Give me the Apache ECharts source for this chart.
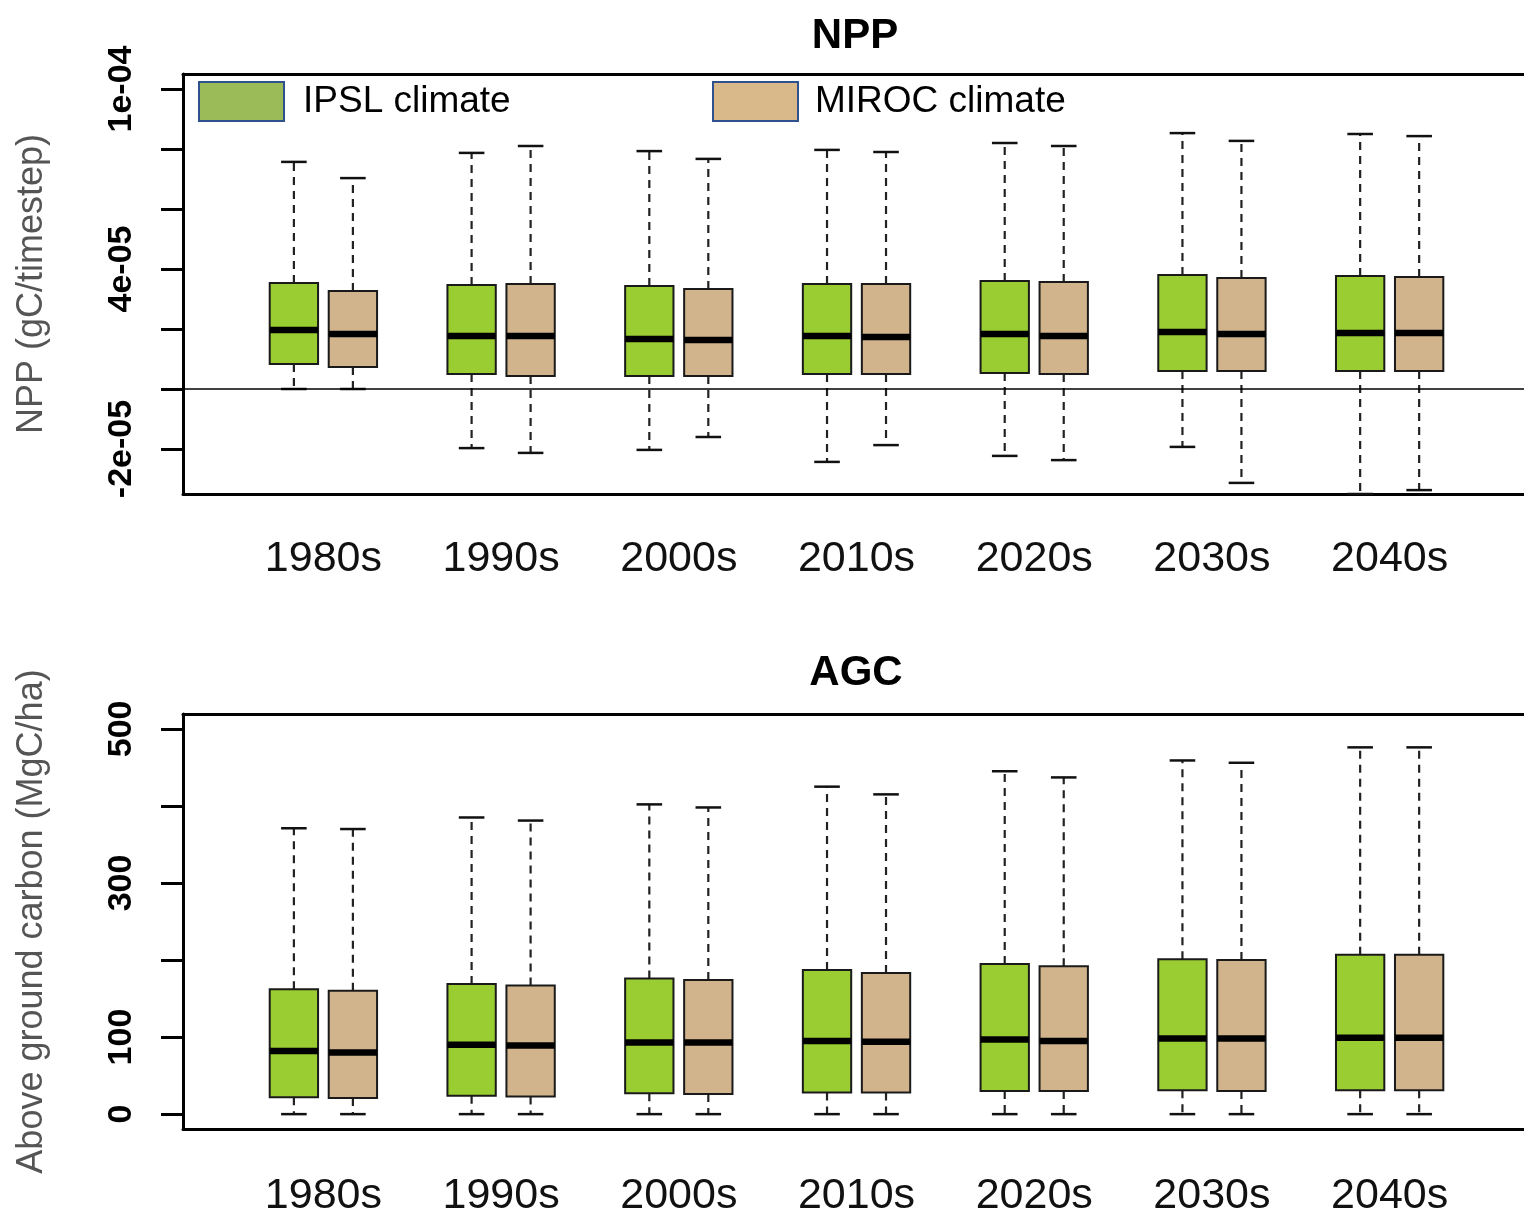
<!DOCTYPE html>
<html lang="en">
<head>
  <meta charset="UTF-8">
  <title>NPP / AGC</title>
  <style>
    html,body{margin:0;padding:0;background:#fff;}
    #main{width:1524px;height:1218px;}
  </style>
</head>
<body>
  <div id="main"></div>
  <script src="https://cdn.jsdelivr.net/npm/echarts@6/dist/echarts.min.js"></script>
  <script>
    const decades=['1980s','1990s','2000s','2010s','2020s','2030s','2040s'];

    // each row: [lower whisker, Q1, median, Q3, upper whisker]
    const nppIpsl=[
      [0,       0.83e-5, 1.97e-5, 3.53e-5, 7.57e-5],
      [-1.97e-5,0.50e-5, 1.77e-5, 3.47e-5, 7.87e-5],
      [-2.03e-5,0.43e-5, 1.67e-5, 3.43e-5, 7.93e-5],
      [-2.43e-5,0.50e-5, 1.77e-5, 3.50e-5, 7.97e-5],
      [-2.23e-5,0.53e-5, 1.83e-5, 3.60e-5, 8.20e-5],
      [-1.93e-5,0.60e-5, 1.90e-5, 3.80e-5, 8.53e-5],
      [-3.50e-5,0.60e-5, 1.87e-5, 3.77e-5, 8.50e-5]
    ];
    const nppMiroc=[
      [0,       0.73e-5, 1.83e-5, 3.27e-5, 7.03e-5],
      [-2.13e-5,0.43e-5, 1.77e-5, 3.50e-5, 8.10e-5],
      [-1.60e-5,0.43e-5, 1.63e-5, 3.33e-5, 7.67e-5],
      [-1.87e-5,0.50e-5, 1.73e-5, 3.50e-5, 7.90e-5],
      [-2.37e-5,0.50e-5, 1.77e-5, 3.57e-5, 8.10e-5],
      [-3.13e-5,0.60e-5, 1.83e-5, 3.70e-5, 8.27e-5],
      [-3.37e-5,0.60e-5, 1.87e-5, 3.73e-5, 8.43e-5]
    ];
    const agcIpsl=[
      [0, 22, 82, 162, 371],
      [0, 24, 90, 169, 385],
      [0, 27, 93, 176, 402],
      [0, 28, 95, 187, 425],
      [0, 30, 97, 195, 445],
      [0, 31, 98, 201, 459],
      [0, 31, 99, 207, 476]
    ];
    const agcMiroc=[
      [0, 21, 80, 160, 370],
      [0, 23, 89, 167, 381],
      [0, 26, 93, 174, 398],
      [0, 28, 94, 183, 415],
      [0, 30, 95, 192, 437],
      [0, 30, 98, 200, 456],
      [0, 31, 99, 207, 476]
    ];

    const nppTicks=[-2e-5,0,2e-5,4e-5,6e-5,8e-5,1e-4];
    const nppLabelValues=[-2e-5,4e-5,1e-4];
    const nppLabels=['-2e-05','4e-05','1e-04'];
    const agcTicks=[0,100,200,300,400,500];
    const agcLabelValues=[0,100,300,500];
    const agcLabels=['0','100','300','500'];

    const font='"Liberation Sans", Arial, sans-serif';
    const chart=echarts.init(document.getElementById('main'));

    function pickLabel(values,labels){
      return function(v){
        let best=0;
        values.forEach((t,i)=>{ if(Math.abs(t-v)<Math.abs(values[best]-v)) best=i; });
        return labels[best];
      };
    }

    // draws one R-style boxplot: dashed whiskers, short staples, thick median
    function boxRenderer(shift){
      return function(params,api){
        const x=api.value(0)+shift;
        const lo=api.coord([x,api.value(1)]);
        const q1=api.coord([x,api.value(2)]);
        const md=api.coord([x,api.value(3)]);
        const q3=api.coord([x,api.value(4)]);
        const hi=api.coord([x,api.value(5)]);
        const unit=api.size([1,0])[0];
        const hw=unit*0.136, cw=unit*0.072;
        const cx=md[0];
        const dash={stroke:'#222',lineWidth:2.2,lineDash:[8,6]};
        const cap={stroke:'#111',lineWidth:2.5};
        return {type:'group',children:[
          {type:'line',shape:{x1:cx,y1:q3[1],x2:cx,y2:hi[1]},style:dash},
          {type:'line',shape:{x1:cx,y1:q1[1],x2:cx,y2:lo[1]},style:dash},
          {type:'line',shape:{x1:cx-cw,y1:hi[1],x2:cx+cw,y2:hi[1]},style:cap},
          {type:'line',shape:{x1:cx-cw,y1:lo[1],x2:cx+cw,y2:lo[1]},style:cap},
          {type:'rect',shape:{x:cx-hw,y:q3[1],width:hw*2,height:q1[1]-q3[1]},
            style:{fill:api.visual('color'),stroke:'#1a1a1a',lineWidth:2}},
          {type:'line',shape:{x1:cx-hw,y1:md[1],x2:cx+hw,y2:md[1]},style:{stroke:'#000',lineWidth:6.5}}
        ]};
      };
    }

    function rows(arr){ return arr.map((r,i)=>[i].concat(r)); }

    const frameLine={show:true, onZero:false, lineStyle:{color:'#000', width:3}};
    const xMin=-0.79, xMax=6.756;

    function bottomAxis(idx,margin){
      return {
        type:'value', gridIndex:idx, min:xMin, max:xMax,
        axisLine:frameLine, axisTick:{show:false}, splitLine:{show:false},
        axisLabel:{customValues:[0,1,2,3,4,5,6], formatter:v=>decades[Math.round(v)],
          fontSize:43, color:'#111', fontFamily:font, margin:margin}
      };
    }
    function topAxis(idx){
      return {
        type:'value', gridIndex:idx, position:'top', min:xMin, max:xMax,
        axisLine:frameLine, axisTick:{show:false}, splitLine:{show:false}, axisLabel:{show:false}
      };
    }

    function yAxisOf(idx,name,min,max,ticks,labelValues,labels){
      return {
        type:'value', gridIndex:idx, min:min, max:max,
        name:name, nameLocation:'middle', nameGap:133,
        nameTextStyle:{fontSize:36, color:'#555', fontFamily:font},
        axisLine:frameLine,
        splitLine:{show:false},
        axisTick:{show:true, customValues:ticks, length:22, lineStyle:{color:'#000', width:3}},
        axisLabel:{customValues:labelValues, formatter:pickLabel(labelValues,labels),
          rotate:90, fontSize:34, fontWeight:'bold', color:'#000', fontFamily:font, margin:44}
      };
    }

    const option={
      animation:false,
      backgroundColor:'#fff',
      title:[
        {text:'NPP', left:850, top:10, textAlign:'center',
          textStyle:{fontSize:42, fontWeight:'bold', color:'#000', fontFamily:font}},
        {text:'AGC', left:851, top:647, textAlign:'center',
          textStyle:{fontSize:42, fontWeight:'bold', color:'#000', fontFamily:font}}
      ],
      legend:[
        {left:198, top:81, padding:0, icon:'rect', itemWidth:85, itemHeight:39, selectedMode:false,
          data:[{name:'IPSL climate', itemStyle:{color:'#9BBB59', borderColor:'#2F528F', borderWidth:2}}],
          textStyle:{fontSize:37, color:'#000', fontFamily:font, padding:[0,0,0,14]}},
        {left:712, top:81, padding:0, icon:'rect', itemWidth:85, itemHeight:39, selectedMode:false,
          data:[{name:'MIROC climate', itemStyle:{color:'#D9B98A', borderColor:'#2F528F', borderWidth:2}}],
          textStyle:{fontSize:37, color:'#000', fontFamily:font, padding:[0,0,0,12]}}
      ],
      grid:[
        {left:183, top:74, width:1341, height:420},
        {left:183, top:714, width:1341, height:418}
      ],
      xAxis:[
        bottomAxis(0,44), topAxis(0),
        bottomAxis(1,46), topAxis(1)
      ],
      yAxis:[
        yAxisOf(0,'NPP (gC/timestep)',-3.5e-5,1.05e-4,nppTicks,nppLabelValues,nppLabels),
        yAxisOf(1,'Above ground carbon (MgC/ha)',-19.3,519.3,agcTicks,agcLabelValues,agcLabels)
      ],
      series:[
        {name:'IPSL climate', type:'custom', xAxisIndex:0, yAxisIndex:0,
          itemStyle:{color:'#9ACD32'}, renderItem:boxRenderer(-0.166),
          encode:{x:0, y:[1,2,3,4,5]}, data:rows(nppIpsl),
          markLine:{silent:true, symbol:'none', label:{show:false},
            lineStyle:{color:'#000', width:1.5, type:'solid'}, data:[{yAxis:0}]}},
        {name:'MIROC climate', type:'custom', xAxisIndex:0, yAxisIndex:0,
          itemStyle:{color:'#D2B48C'}, renderItem:boxRenderer(0.166),
          encode:{x:0, y:[1,2,3,4,5]}, data:rows(nppMiroc)},
        {name:'IPSL climate', type:'custom', xAxisIndex:2, yAxisIndex:1,
          itemStyle:{color:'#9ACD32'}, renderItem:boxRenderer(-0.166),
          encode:{x:0, y:[1,2,3,4,5]}, data:rows(agcIpsl)},
        {name:'MIROC climate', type:'custom', xAxisIndex:2, yAxisIndex:1,
          itemStyle:{color:'#D2B48C'}, renderItem:boxRenderer(0.166),
          encode:{x:0, y:[1,2,3,4,5]}, data:rows(agcMiroc)}
      ]
    };
    chart.setOption(option);
  </script>
</body>
</html>
